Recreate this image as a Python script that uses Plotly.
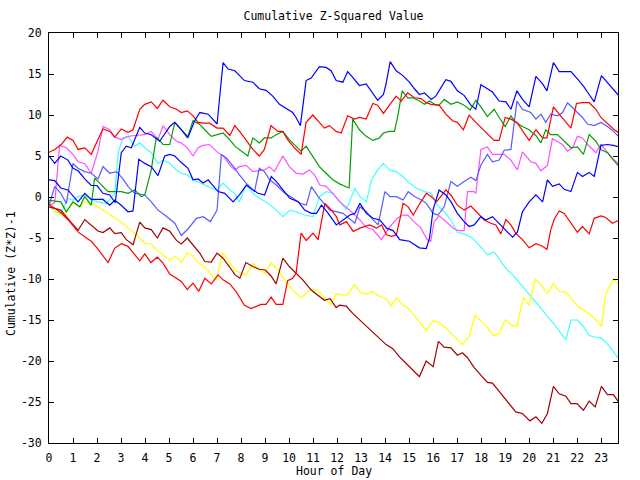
import plotly.graph_objects as go

# ---------------- data (hour of day, cumulative value) ----------------
blue_a_h = [0, 0.24, 0.49, 0.79, 1.0, 1.21, 1.49, 1.76, 2.0, 2.25, 2.53, 2.76, 3.01, 3.22, 3.43, 3.78, 3.99, 4.26, 4.61, 5.03,
            5.24, 5.51, 5.79, 6.07, 6.28, 6.63, 7.0, 7.25, 7.46, 7.74, 7.93, 8.14, 8.49, 8.76, 9.04, 9.32, 9.6, 9.88, 10.15, 10.29,
            10.47, 10.71, 10.92, 11.26, 11.54, 11.75, 11.96, 12.24, 12.44, 12.65, 12.93, 13.21, 13.49, 13.69, 13.93, 14.04, 14.21,
            14.46, 14.74, 15.01, 15.22, 15.43, 15.64, 15.92, 16.11, 16.25, 16.53, 16.74, 17.01, 17.29, 17.57, 17.78, 17.99, 18.26,
            18.47, 18.75, 19.03, 19.24, 19.49, 19.72, 20.0, 20.28, 20.56, 20.74, 21.01, 21.25, 21.74, 22.01, 22.29, 22.5, 22.71,
            23.01, 23.26, 23.47, 23.75]
blue_a_v = [5.0, 4.1, 5.0, 4.5, 3.5, 3.2, 2.2, 1.4, 1.4, 0.45, 0.25, -0.7, 5.4, 6.2, 6.0, 8.5, 7.8, 7.6, 6.8, 8.6,
            9.1, 8.2, 7.3, 9.3, 10.3, 10.1, 8.9, 16.4, 15.6, 15.4, 14.8, 14.2, 14.0, 13.2, 13.0, 12.3, 11.3, 10.8, 10.3, 9.7,
            8.7, 14.2, 14.5, 15.9, 15.8, 15.4, 14.2, 14.0, 15.3, 14.6, 13.6, 13.8, 12.7, 11.8, 12.5, 13.8, 16.5,
            15.4, 14.8, 14.0, 13.2, 12.5, 12.7, 11.9, 12.3, 12.95, 14.3, 14.1, 12.95, 12.4, 11.2, 10.7, 13.7, 13.2,
            12.8, 11.7, 11.6, 10.7, 12.95, 11.9, 11.0, 14.7, 13.8, 12.95, 16.4, 15.3, 15.3, 14.4, 13.4, 12.5, 11.6,
            14.8, 14.0, 13.2, 12.3]

blue_b_h = [0, 0.24, 0.49, 0.79, 1.21, 1.49, 1.76, 2.0, 2.25, 2.53, 2.74, 3.01, 3.29, 3.5, 3.74, 3.99, 4.26, 4.54, 4.82, 5.03,
            5.24, 5.51, 5.79, 6.0, 6.21, 6.42, 6.63, 6.83, 7.04, 7.32, 7.67, 7.94, 8.22, 8.5, 8.71, 8.98, 9.26, 9.47, 9.75, 10.03,
            10.38, 10.65, 10.93, 11.14, 11.35, 11.63, 11.97, 12.25, 12.53, 12.74, 12.95, 13.22, 13.5, 13.78, 14.06, 14.33, 14.61,
            15.01, 15.43, 15.71, 15.85, 16.0, 16.25, 16.53, 16.74, 17.01, 17.29, 17.5, 17.71, 17.99, 18.19, 18.47, 18.75, 19.03,
            19.31, 19.51, 19.72, 20.0, 20.28, 20.56, 20.76, 20.97, 21.25, 21.46, 21.74, 22.01, 22.22, 22.5, 22.71, 22.99, 23.26,
            23.51, 23.75]
blue_b_v = [2.1, 2.0, 1.1, 0.86, -0.6, 0.45, -0.3, -0.3, -0.3, -1.0, -0.4, -1.0, -1.8, -1.7, 4.6, 4.1, 3.7, 2.6, 5.0, 5.2,
            5.0, 4.2, 3.5, 2.1, 2.2, 1.7, 2.1, 1.4, 0.66, 0.45, -0.6, 0.3, 1.46, 0.85, 0.45, 0.24, 2.5, 1.87, 0.85, -0.16,
            -0.57, -1.6, -2.0, -2.0, -0.98, -2.0, -3.4, -2.8, -2.2, -2.0, -0.77, -2.0, -2.6, -2.8, -3.8, -4.1, -5.2,
            -5.4, -6.2, -6.3, -5.0, -1.5, 0.86, 0.25, -0.57, -2.0, -3.0, -3.6, -3.4, -2.4, -2.8, -2.4, -3.2, -4.06,
            -4.9, -4.3, -1.8, -0.6, 0.25, -0.6, 2.1, 1.3, 1.6, 0.94, 0.66, 3.0, 2.5, 3.0, 2.5, 6.3, 6.4,
            6.3, 6.1]

slate_h = [0, 0.24, 0.49, 0.72, 1.0, 1.21, 1.49, 1.76, 2.04, 2.25, 2.53, 2.81, 3.08, 3.29, 3.57, 3.99, 4.26, 4.54, 4.82, 5.24,
           5.51, 5.79, 6.14, 6.42, 6.72, 7.0, 7.18, 7.39, 7.74, 7.93, 8.21, 8.56, 8.76, 8.97, 9.2, 9.47, 9.82, 10.17, 10.45,
           10.72, 10.93, 11.21, 11.7, 12.25, 12.74, 12.95, 13.22, 13.5, 13.71, 13.99, 14.2, 14.47, 14.75, 14.96, 15.24, 15.52,
           15.72, 16.0, 16.2, 16.46, 16.74, 17.01, 17.29, 17.57, 17.78, 17.99, 18.26, 18.47, 18.75, 18.96, 19.24, 19.49, 19.72,
           20.07, 20.28, 20.49, 20.69, 20.9, 21.18, 21.39, 21.6, 21.81, 22.01, 22.22, 22.43, 22.71, 22.99, 23.26, 23.51, 23.75]
slate_v = [-1.0, 1.3, 0.45, -0.8, 4.1, 3.5, 3.1, 2.9, 2.2, 3.7, 2.9, 3.1, 2.2, 1.3, 0.45, 0.25, -0.6, -1.6, -2.2, -3.2,
           -4.7, -3.9, -2.6, -2.4, -3.0, -1.6, 5.2, 4.75, 3.5, 2.7, 1.7, 0.66, 3.5, 3.1, 2.07, 1.46, 0.45, -0.16, -0.77,
           -0.98, 1.26, 0.04, -1.6, -2.0, -3.2, -1.2, -1.8, -2.8, -3.4, 0.65, 0.04, 0.04, -0.37, 0.65, 0.04, -0.37,
           -0.77, -2.0, -2.2, -1.2, 1.9, 1.3, 1.9, 2.4, 2.0, 3.9, 5.2, 4.3, 4.5, 5.7, 5.8, 11.7, 10.7,
           10.3, 9.5, 10.1, 9.1, 10.1, 9.9, 10.3, 11.5, 10.9, 10.4, 9.7, 8.9, 8.7, 9.1, 8.6, 8.0, 7.3]

magenta_h = [0, 0.24, 0.44, 0.72, 1.0, 1.21, 1.49, 1.76, 2.04, 2.25, 2.53, 2.74, 3.01, 3.29, 3.57, 3.99, 4.26, 4.54, 4.75, 5.03,
             5.31, 5.51, 5.76, 6.0, 6.21, 6.42, 6.69, 7.0, 7.25, 7.53, 7.74, 7.93, 8.21, 8.49, 8.97, 9.18, 9.39, 9.74, 10.01,
             10.29, 10.57, 10.85, 11.06, 11.28, 11.54, 11.82, 12.11, 12.38, 12.67, 12.95, 13.21, 13.5, 13.85, 14.2, 14.5,
             14.75, 14.94, 15.2, 15.47, 15.75, 15.9, 16.04, 16.25, 16.46, 16.67, 16.88, 17.08, 17.29, 17.43, 17.71, 17.78,
             17.99, 18.26, 18.47, 18.96, 19.24, 19.51, 19.72, 20.07, 20.28, 20.49, 20.76, 20.97, 21.18, 21.39, 21.6, 21.81,
             22.01, 22.22, 22.43, 22.57, 22.78, 22.99, 23.26, 23.51, 23.75]
magenta_v = [-1.0, -0.7, 6.3, 6.0, 5.2, 4.3, 4.06, 2.9, 5.6, 8.6, 8.2, 7.3, 7.0, 7.4, 7.5, 7.6, 8.0, 7.0, 8.7, 7.6,
             6.8, 6.6, 6.0, 5.0, 6.0, 6.3, 6.4, 5.5, 5.0, 3.9, 3.3, 3.7, 3.85, 3.1, 3.3, 3.7, 3.1, 5.0, 3.7,
             2.9, 2.8, 3.3, 2.7, 1.46, 1.3, 0.45, -0.57, -1.2, -1.99, -2.8, -3.7, -4.0, -5.2, -3.6, -2.6,
             -2.2, -2.2, -3.0, -3.7, -5.2, -5.4, -3.0, -2.3, -2.8, -3.4, -3.9, -4.1, -4.1, 0.66, 0.66, 0.45,
             5.8, 6.1, 5.2, 5.2, 4.5, 3.3, 5.5, 4.3, 4.1, 3.2, 3.85, 7.1, 6.8, 6.4, 5.6, 6.0,
             7.4, 7.2, 6.4, 6.0, 5.4, 6.4, 5.4, 4.6, 4.0]

green_h = [0, 0.49, 0.72, 1.0, 1.28, 1.49, 1.76, 1.9, 2.11, 2.46, 3.01, 3.29, 3.57, 3.85, 3.99, 4.26, 4.47, 4.75, 5.03, 5.24,
           5.51, 5.76, 6.0, 6.28, 6.49, 6.76, 7.25, 7.53, 7.74, 7.93, 8.28, 8.49, 8.76, 8.97, 9.25, 9.46, 9.74, 10.01, 10.5,
           10.71, 10.99, 11.26, 11.54, 11.82, 12.1, 12.5, 12.65, 12.93, 13.21, 13.49, 13.76, 13.93, 14.18, 14.39, 14.53, 14.71,
           14.94, 15.15, 15.43, 15.64, 15.85, 16.13, 16.25, 16.46, 16.74, 17.01, 17.29, 17.54, 17.78, 17.99, 18.26, 18.54,
           18.75, 19.0, 19.24, 19.44, 19.72, 20.0, 20.28, 20.49, 20.69, 20.9, 21.18, 21.46, 21.74, 22.01, 22.26, 22.5, 22.78,
           22.99, 23.26, 23.51, 23.75]
green_v = [-0.4, -0.6, -1.8, -0.6, -1.2, 0.04, -1.0, 2.3, 1.7, 0.66, 0.66, 0.45, 0.86, 0.04, 0.25, 3.3, 7.3, 6.4, 6.4, 9.1,
           8.2, 7.2, 9.3, 8.85, 8.2, 7.4, 7.8, 7.0, 6.2, 5.8, 5.0, 7.2, 6.6, 7.2, 7.2, 7.6, 8.0, 7.0, 5.6,
           6.2, 5.0, 3.7, 2.9, 2.1, 1.6, 1.1, 9.5, 8.2, 7.4, 6.9, 7.2, 7.8, 8.0, 8.0, 9.9, 12.95,
           12.1, 12.1, 11.7, 11.3, 11.7, 11.2, 11.2, 11.9, 11.3, 11.6, 11.2, 10.6, 11.8, 11.0, 9.8, 10.7,
           9.7, 8.6, 9.9, 9.1, 8.6, 8.2, 7.5, 6.6, 8.2, 7.6, 7.6, 6.8, 6.0, 6.1, 5.2, 7.6, 6.8,
           5.8, 5.4, 4.5, 3.7]

cyan_h = [0, 0.24, 0.49, 0.79, 1.0, 1.21, 1.49, 1.76, 2.04, 2.39, 2.74, 2.88, 3.08, 3.29, 3.57, 3.78, 3.99, 4.26, 4.54, 4.75,
          5.03, 5.31, 5.51, 5.76, 6.0, 6.28, 6.49, 6.76, 7.0, 7.25, 7.53, 7.74, 7.93, 8.21, 8.49, 8.76, 9.04, 9.32, 9.75, 10.03,
          10.29, 10.64, 11.0, 11.26, 11.55, 11.83, 12.1, 12.39, 12.74, 12.95, 13.22, 13.43, 13.69, 13.93, 14.18, 14.46, 14.74,
          15.01, 15.29, 15.64, 15.92, 16.13, 16.25, 16.46, 16.74, 17.01, 17.29, 17.64, 17.92, 18.26, 18.54, 18.75, 19.03, 19.38,
          19.72, 20.07, 20.35, 20.69, 21.04, 21.29, 21.53, 21.74, 22.01, 22.29, 22.5, 22.78, 23.01, 23.26, 23.51, 23.75]
cyan_v = [-1.0, -1.8, -2.0, -0.16, -0.4, 0.04, 0.25, -0.4, -0.6, -0.8, 0.45, 5.4, 7.2, 7.4, 6.2, 6.6, 6.0, 5.4, 4.1, 4.5,
          4.1, 3.3, 2.9, 2.7, 2.1, 1.7, 1.4, 1.1, 0.86, 1.7, 0.86, 0.45, -0.6, 1.5, 0.45, -0.16, -0.6, -1.2, -2.4, -1.6,
          -1.8, -2.2, -2.4, 0.04, 0.65, 0.45, -0.6, -1.5, 1.06, 0.04, -0.57, 2.07, 3.3, 4.1, 3.3, 3.1, 2.5,
          1.7, 1.1, 0.66, 0.45, -0.8, -1.2, -1.8, -2.8, -4.3, -4.5, -5.0, -5.9, -7.05, -6.7, -7.6, -8.7, -9.7,
          -10.9, -12.1, -13.1, -14.2, -15.5, -16.5, -17.4, -15.0, -15.0, -15.9, -16.9, -17.1, -17.2, -17.9, -18.8, -19.8]

yellow_h = [0, 0.24, 0.49, 0.72, 1.0, 1.28, 1.49, 1.76, 2.04, 2.32, 2.6, 2.88, 3.15, 3.43, 3.71, 3.99, 4.24, 4.54, 4.82, 5.03,
            5.26, 5.51, 5.76, 6.0, 6.21, 6.49, 6.76, 6.97, 7.25, 7.46, 7.74, 8.01, 8.21, 8.49, 8.76, 9.01, 9.25, 9.53, 9.81,
            10.15, 10.5, 10.85, 11.19, 11.47, 11.75, 11.96, 12.24, 12.44, 12.72, 13.0, 13.28, 13.49, 13.76, 14.04, 14.25,
            14.46, 14.74, 14.94, 15.15, 15.43, 15.71, 15.99, 16.18, 16.46, 16.74, 17.01, 17.22, 17.5, 17.75, 17.99, 18.26,
            18.5, 18.75, 19.0, 19.24, 19.49, 19.76, 20.0, 20.25, 20.49, 20.76, 21.01, 21.25, 21.53, 21.74, 22.01, 22.29,
            22.57, 22.78, 23.01, 23.19, 23.51, 23.75]
yellow_v = [-0.6, -1.8, -2.2, -1.8, -0.7, -1.2, -0.6, -0.8, -1.2, -1.7, -2.3, -2.8, -3.4, -4.06, -4.8, -5.7, -5.7, -6.6, -7.25, -7.7,
            -7.2, -8.0, -6.8, -7.2, -8.0, -8.5, -9.5, -10.1, -6.8, -7.7, -8.9, -9.3, -9.5, -8.1, -8.9, -9.3, -8.0, -8.9, -10.1,
            -11.35, -12.3, -11.35, -11.35, -12.3, -13.1, -11.8, -11.97, -11.9, -10.7, -11.7, -11.8, -11.5, -12.1, -12.4, -13.3,
            -12.3, -13.2, -13.5, -14.2, -15.2, -16.3, -15.1, -15.2, -15.8, -16.6, -17.4, -18.0, -17.0, -14.4, -15.1, -15.9,
            -16.9, -16.7, -14.96, -15.6, -15.8, -12.2, -13.2, -10.0, -10.7, -11.8, -10.5, -11.5, -11.6, -12.3, -13.3, -13.8,
            -14.4, -15.0, -15.8, -11.8, -10.0, -10.7]

red_a_h = [0, 0.24, 0.51, 0.76, 1.0, 1.21, 1.49, 1.76, 2.04, 2.25, 2.53, 2.74, 3.01, 3.29, 3.5, 3.78, 3.99, 4.26, 4.51, 4.75,
           5.03, 5.31, 5.51, 5.76, 6.0, 6.21, 6.42, 6.69, 7.0, 7.25, 7.53, 7.74, 7.94, 8.14, 8.49, 8.76, 8.97, 9.25, 9.53, 9.74,
           9.94, 10.22, 10.5, 10.71, 10.99, 11.26, 11.47, 11.68, 11.96, 12.17, 12.44, 12.72, 12.93, 13.21, 13.49, 13.69, 13.93,
           14.18, 14.46, 14.67, 14.94, 15.22, 15.5, 15.71, 15.92, 16.25, 16.53, 16.81, 17.01, 17.26, 17.5, 17.78, 18.06, 18.26,
           18.54, 18.75, 19.0, 19.24, 19.49, 19.79, 20.0, 20.28, 20.56, 20.74, 21.01, 21.25, 21.53, 21.74, 21.97, 22.22, 22.5,
           22.78, 22.99, 23.26, 23.54, 23.75]
red_a_v = [5.45, 5.8, 6.4, 7.3, 6.9, 5.8, 6.0, 5.2, 7.0, 8.3, 8.0, 7.3, 8.3, 7.9, 8.2, 10.7, 11.3, 11.6, 10.8, 11.8,
           11.0, 10.7, 10.3, 10.5, 9.9, 9.1, 9.0, 9.0, 8.4, 8.4, 7.5, 8.7, 8.0, 7.2, 5.8, 5.0, 5.8, 8.7, 8.0, 8.0,
           7.0, 6.0, 5.2, 9.1, 10.0, 9.1, 8.4, 8.7, 8.0, 7.8, 9.9, 9.5, 9.7, 9.5, 11.4, 11.2, 10.2,
           11.2, 12.3, 11.7, 12.7, 12.1, 12.0, 11.5, 11.3, 11.2, 10.1, 9.3, 9.1, 8.2, 10.0, 9.1, 8.3, 7.8,
           6.9, 6.9, 9.7, 9.5, 9.1, 7.8, 6.9, 8.2, 7.2, 7.2, 11.0, 10.1, 9.1, 8.4, 11.4, 11.5, 11.5,
           10.7, 9.7, 8.9, 8.2, 7.8]

red_b_h = [0, 0.24, 0.49, 0.8, 1.21, 1.56, 1.76, 2.04, 2.46, 2.74, 3.01, 3.29, 3.5, 3.78, 3.99, 4.24, 4.51, 4.75, 5.03, 5.38,
           5.51, 5.76, 6.0, 6.24, 6.49, 6.76, 7.04, 7.25, 7.53, 7.81, 7.97, 8.14, 8.42, 8.63, 8.83, 9.04, 9.25, 9.46, 9.74,
           9.94, 10.15, 10.29, 10.5, 10.71, 11.0, 11.21, 11.35, 11.49, 11.7, 11.97, 12.11, 12.39, 12.67, 12.95, 13.36, 13.64,
           13.85, 14.06, 14.27, 14.47, 14.61, 14.75, 14.96, 15.17, 15.45, 15.72, 15.93, 16.14, 16.53, 16.74, 17.01, 17.29,
           17.57, 17.85, 18.13, 18.4, 18.61, 18.82, 19.03, 19.24, 19.44, 19.72, 20.0, 20.28, 20.56, 20.74, 20.9, 21.04, 21.25,
           21.46, 21.74, 22.01, 22.22, 22.5, 22.71, 22.99, 23.19, 23.47, 23.75]
red_b_v = [-0.9, -1.4, -1.9, -2.8, -4.26, -5.0, -5.4, -6.35, -7.99, -6.23, -5.7, -6.02, -6.72, -7.79, -6.93, -7.99, -7.34, -8.07, -9.39, -10.0,
           -10.3, -11.3, -10.5, -11.5, -9.92, -10.6, -9.5, -10.1, -10.6, -11.6, -12.4, -13.2, -13.6, -13.3, -13.1, -13.1, -12.2, -13.1, -13.1,
           -10.2, -9.9, -9.3, -4.4, -5.3, -4.4, -5.2, -2.8, -0.77, -1.4, -2.4, -3.4, -3.0, -4.2, -3.8, -3.4, -3.8,
           -3.4, -4.6, -4.8, -4.6, -2.8, -0.77, -1.2, -2.2, -0.77, 0.45, 0.04, -0.6, 0.86, 0.25, -1.0, -1.6,
           -1.1, -2.0, -2.8, -3.2, -3.4, -4.5, -2.75, -3.4, -4.4, -5.2, -6.2, -5.7, -6.0, -6.4, -3.98, -2.75, -1.7,
           -2.0, -3.2, -4.3, -3.6, -4.5, -2.6, -2.3, -2.5, -3.2, -2.8]

dark_red_h = [0, 0.49, 0.82, 1.21, 1.49, 2.04, 2.25, 2.53, 2.74, 3.01, 3.22, 3.5, 3.78, 3.99, 4.26, 4.51, 4.75, 5.03, 5.31, 5.51,
              5.76, 6.0, 6.28, 6.49, 6.76, 7.0, 7.25, 7.53, 7.75, 7.95, 8.2, 8.49, 8.76, 9.01, 9.25, 9.46, 9.74, 10.01, 10.29,
              10.57, 10.92, 11.26, 11.47, 11.71, 11.96, 12.1, 12.38, 12.65, 13.2, 13.49, 13.76, 14.04, 14.32, 14.6, 14.88,
              15.15, 15.43, 15.71, 16.0, 16.22, 16.46, 16.74, 17.01, 17.22, 17.43, 17.71, 17.99, 18.26, 18.47, 18.82, 19.1,
              19.44, 19.72, 20.03, 20.28, 20.53, 20.76, 21.01, 21.25, 21.53, 21.74, 21.99, 22.26, 22.5, 22.75, 23.01, 23.26,
              23.51, 23.75]
dark_red_v = [-1.2, -1.6, -2.75, -4.06, -2.75, -4.14, -4.34, -3.77, -4.47, -4.34, -5.2, -5.82, -3.07, -3.77, -3.98, -5.0, -3.77, -4.18, -5.29, -5.74,
              -5.0, -5.82, -6.84, -7.87, -7.95, -6.84, -7.46, -8.57, -9.5, -9.9, -8.0, -8.48, -8.81, -8.9, -9.63, -10.6, -7.46, -8.48, -9.3,
              -10.1, -11.35, -12.1, -12.6, -12.4, -13.5, -13.2, -13.3, -14.2, -15.7, -16.6, -17.3, -18.0, -18.5, -19.5, -20.3,
              -21.1, -21.9, -20.0, -20.7, -17.6, -18.3, -18.4, -19.3, -19.0, -19.6, -20.8, -21.7, -22.6, -22.7, -24.0, -24.9,
              -26.2, -26.4, -27.3, -26.8, -27.6, -26.4, -23.1, -24.0, -24.3, -25.2, -25.2, -26.0, -24.9, -25.6, -23.1, -24.1,
              -24.1, -25.1]

x_tick_vals = list(range(24))
x_tick_text = [str(h) for h in x_tick_vals]
y_tick_vals = [-30, -25, -20, -15, -10, -5, 0, 5, 10, 15, 20]
y_tick_text = [str(v) for v in y_tick_vals]

series = [
    (cyan_h, cyan_v, "#40ffff"),
    (yellow_h, yellow_v, "#ffff00"),
    (magenta_h, magenta_v, "#ff50ff"),
    (slate_h, slate_v, "#5a5aff"),
    (green_h, green_v, "#00a000"),
    (dark_red_h, dark_red_v, "#a00000"),
    (red_b_h, red_b_v, "#ff0000"),
    (red_a_h, red_a_v, "#ff0000"),
    (blue_b_h, blue_b_v, "#0000ff"),
    (blue_a_h, blue_a_v, "#0000ff"),
]

FONT = "DejaVu Sans Mono"
FS = 11.5

fig = go.Figure()
for hx, vy, col in series:
    assert len(hx) == len(vy), (len(hx), len(vy), col)
    fig.add_trace(go.Scatter(x=hx, y=vy, mode="lines", line=dict(color=col, width=1.2),
                             showlegend=False, hoverinfo="skip"))

fig.update_layout(
    width=640, height=480,
    margin=dict(l=49, r=22, t=33, b=37, pad=0),
    paper_bgcolor="white", plot_bgcolor="white",
    font=dict(family=FONT, size=FS, color="black"),
    showlegend=False,
    title=dict(text="Cumulative Z-Squared Value", x=333.5 / 640, xanchor="center", xref="container",
               y=1 - 16 / 480, yanchor="middle", yref="container",
               font=dict(family=FONT, size=FS, color="black")),
    annotations=[
        dict(text="Hour of Day", x=0.5, y=(443 - 471) / 410, xref="paper", yref="paper",
             xanchor="center", yanchor="middle", showarrow=False, font=dict(family=FONT, size=FS)),
        dict(text="Cumulative (Z*Z)-1", x=(11 - 49) / 569, y=(443 - 274) / 410, xref="paper", yref="paper",
             xanchor="center", yanchor="middle", textangle=-90, showarrow=False, font=dict(family=FONT, size=FS)),
    ],
)
fig.update_xaxes(range=[0, 23.7], tickvals=x_tick_vals, ticktext=x_tick_text, ticks="inside", ticklen=5,
                 tickcolor="black", showline=True, linecolor="black", linewidth=1, mirror="ticks",
                 showgrid=False, zeroline=False, ticklabelstandoff=4)
fig.update_yaxes(range=[-30, 20], tickvals=y_tick_vals, ticktext=y_tick_text, ticks="inside", ticklen=5,
                 tickcolor="black", showline=True, linecolor="black", linewidth=1, mirror="ticks",
                 showgrid=False, zeroline=False, ticklabelstandoff=4)

fig.write_html("out.html", config={"displayModeBar": False})
